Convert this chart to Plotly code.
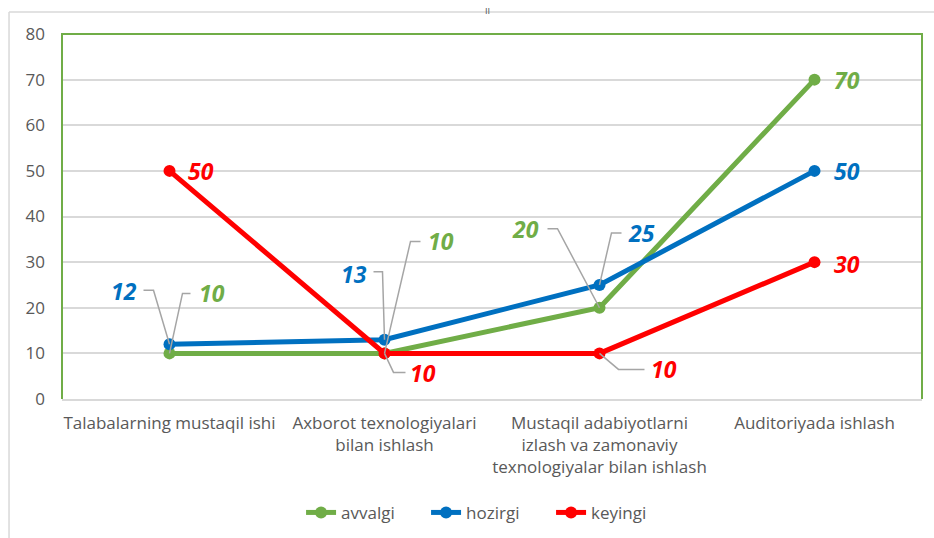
import plotly.graph_objects as go

categories = [
    "Talabalarning mustaqil ishi",
    "Axborot texnologiyalari<br>bilan ishlash",
    "Mustaqil adabiyotlarni<br>izlash va zamonaviy<br>texnologiyalar bilan ishlash",
    "Auditoriyada ishlash",
]
avvalgi = [10, 10, 20, 70]
hozirgi = [12, 13, 25, 50]
keyingi = [50, 10, 10, 30]

series_names = ["avvalgi", "hozirgi", "keyingi"]
colors = ["#70AD47", "#0070C0", "#FF0000"]
y_ticks = [0, 10, 20, 30, 40, 50, 60, 70, 80]

FONT = "Open Sans, DejaVu Sans, sans-serif"
xs = list(range(len(categories)))

fig = go.Figure()
for name, vals, col in zip(series_names, [avvalgi, hozirgi, keyingi], colors):
    fig.add_trace(go.Scatter(
        x=xs, y=vals, name=name, mode="lines+markers",
        line=dict(color=col, width=5),
        marker=dict(color=col, size=12),
    ))

# label placement: (series index, point index, dx, dy, leader path or None)
labels = [
    (0, 0, 42, 60, [(21, 60), (13, 60)]),
    (0, 1, 56, 112, [(36, 112), (26, 112)]),
    (0, 2, -74, 79, [(-52, 79), (-42, 79)]),
    (0, 3, 32, 0, None),
    (1, 0, -46, 53, [(-26, 54), (-16, 54)]),
    (1, 1, -31, 66, [(-11, 68), (-2, 68)]),
    (1, 2, 42, 52, [(22, 52), (12, 52)]),
    (1, 3, 32, 0, None),
    (2, 0, 31, 0, None),
    (2, 1, 38, -20, [(21, -19), (9, -19)]),
    (2, 2, 64, -16, [(45, -16), (19, -16)]),
    (2, 3, 32, -2, None),
]
data = [avvalgi, hozirgi, keyingi]
shapes = []
annotations = []
for si, pi, dx, dy, path in labels:
    v = data[si][pi]
    annotations.append(dict(
        x=pi, y=v, xref="x", yref="y", text="<b><i>%d</i></b>" % v,
        showarrow=False, xshift=dx, yshift=dy,
        font=dict(family=FONT, size=23, color=colors[si]),
    ))
    if path:
        d = "M%d,%d L%d,%d L0,0" % (path[0][0], path[0][1], path[1][0], path[1][1])
        shapes.append(dict(
            type="path", xref="x", yref="y", xsizemode="pixel", ysizemode="pixel",
            xanchor=pi, yanchor=v, path=d,
            line=dict(color="#A5A5A5", width=1.5), layer="above",
        ))

# outer chart border (top and left)
shapes.append(dict(type="line", xref="paper", yref="paper", x0=-0.0616, x1=1.02, y0=1.06, y1=1.06,
                   line=dict(color="#D9D9D9", width=1.5)))
shapes.append(dict(type="line", xref="paper", yref="paper", x0=-0.0616, x1=-0.0616, y0=-0.4, y1=1.06,
                   line=dict(color="#D9D9D9", width=1.5)))
# green plot area border (top, left, right)
shapes.append(dict(type="path", xref="paper", yref="paper",
                   path="M0,0 L0,1 L1,1 L1,0", line=dict(color="#70AD47", width=2)))

annotations.append(dict(x=0.495, y=1.09, xref="paper", yref="paper", text="ıı", showarrow=False,
                        font=dict(family=FONT, size=10, color="#595959")))

fig.update_layout(
    width=934, height=538,
    margin=dict(l=62, r=12, t=34, b=139, autoexpand=False),
    paper_bgcolor="white", plot_bgcolor="white",
    font=dict(family=FONT, size=17, color="#595959"),
    showlegend=True,
    legend=dict(orientation="h", x=0.496, xanchor="center", y=-0.312, yanchor="middle",
                font=dict(family=FONT, size=17, color="#595959"), tracegroupgap=0,
                entrywidth=80, entrywidthmode="pixels"),
    xaxis=dict(range=[-0.5, 3.5], tickmode="array", tickvals=xs, ticktext=categories,
               showgrid=False, zeroline=False, showline=True, linecolor="#D9D9D9", linewidth=1.5,
               ticks="", tickfont=dict(family=FONT, size=17, color="#595959"),
               ticklabelstandoff=8),
    yaxis=dict(range=[0, 80], tickmode="array", tickvals=y_ticks, showgrid=True,
               gridcolor="#D9D9D9", gridwidth=1.5, zeroline=False, showline=False, ticks="",
               tickfont=dict(family=FONT, size=17, color="#595959"), ticklabelstandoff=16),
    shapes=shapes, annotations=annotations,
)
fig.write_html("out.html", config={"displayModeBar": False},
               post_script="document.body.style.margin='0';")
